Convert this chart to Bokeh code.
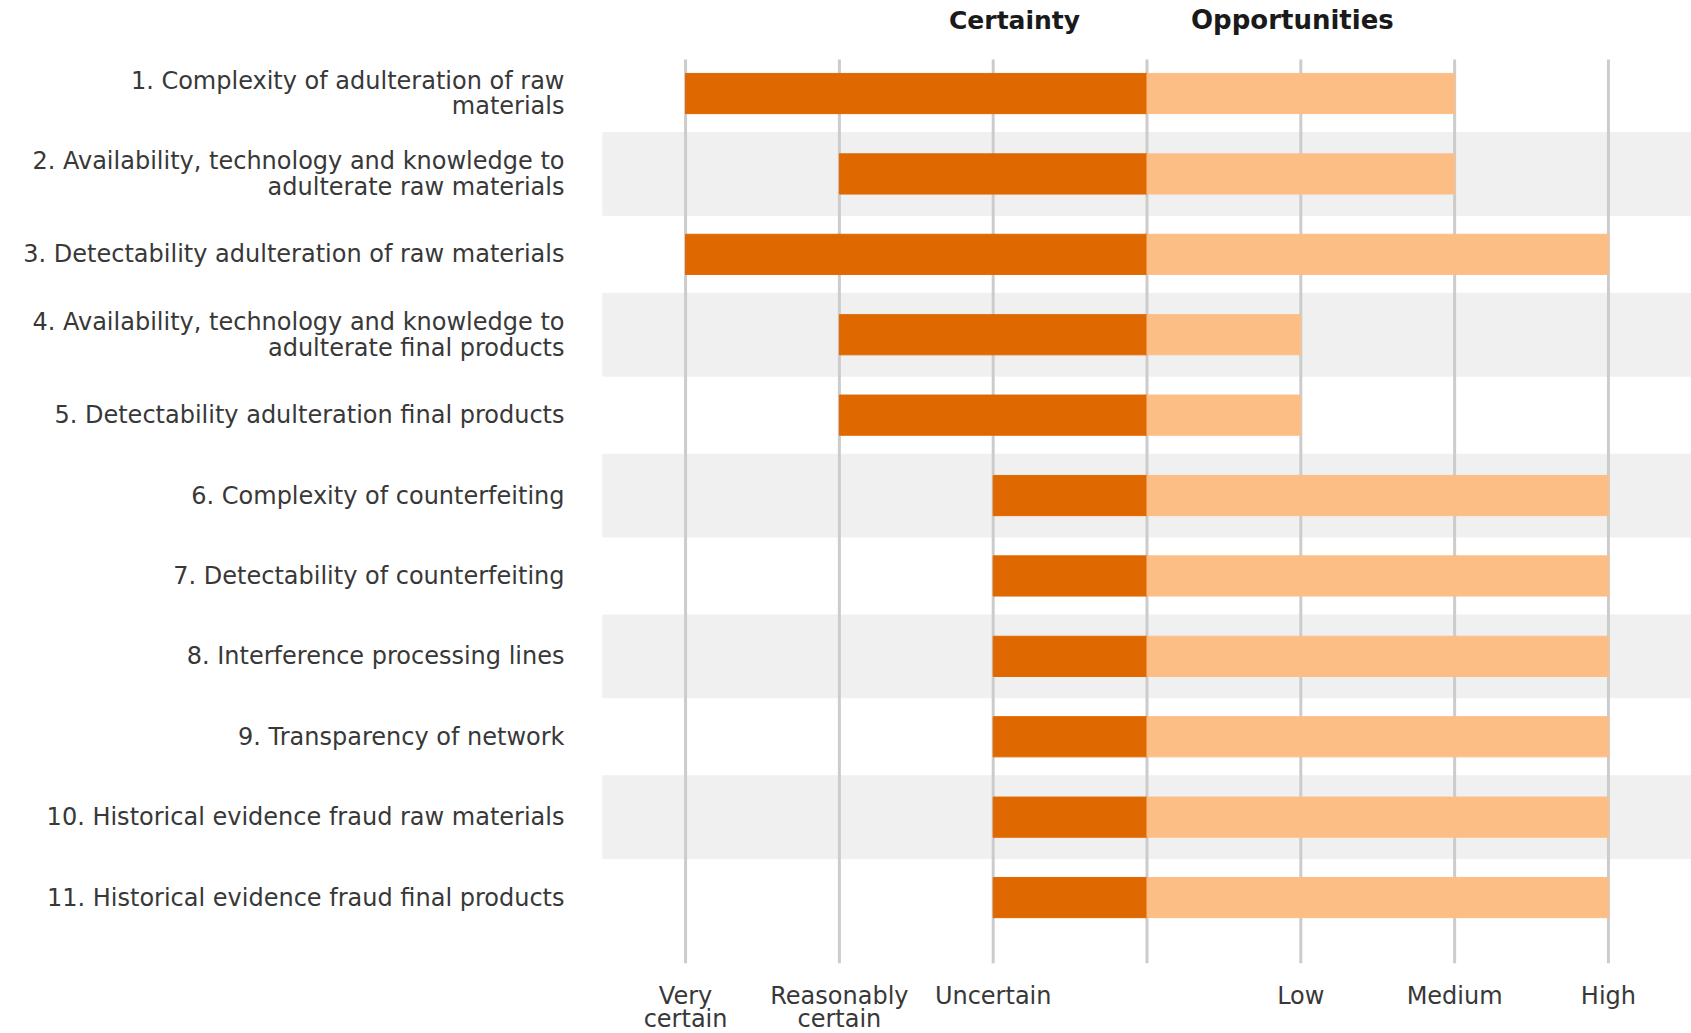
from bokeh.plotting import figure
from bokeh.models import Range1d, FixedTicker, LinearAxis
from bokeh.core.properties import value
from bokeh.embed import file_html
from bokeh.resources import INLINE

# ---- data ----
items = [
    "1. Complexity of adulteration of raw\nmaterials",
    "2. Availability, technology and knowledge to\nadulterate raw materials",
    "3. Detectability adulteration of raw materials",
    "4. Availability, technology and knowledge to\nadulterate final products",
    "5. Detectability adulteration final products",
    "6. Complexity of counterfeiting",
    "7. Detectability of counterfeiting",
    "8. Interference processing lines",
    "9. Transparency of network",
    "10. Historical evidence fraud raw materials",
    "11. Historical evidence fraud final products",
]
certainty = [-3, -2, -3, -2, -2, -1, -1, -1, -1, -1, -1]
opportunities = [2, 2, 3, 1, 1, 3, 3, 3, 3, 3, 3]
tick_values = [-3, -2, -1, 1, 2, 3]
tick_labels = ["Very\ncertain", "Reasonably\ncertain", "Uncertain", "Low", "Medium", "High"]
grid_values = [-3, -2, -1, 0, 1, 2, 3]
headers = ["Certainty", "Opportunities"]

rows = list(range(1, len(items) + 1))
band_rows = [r for r in rows if r % 2 == 0]

FONT = "DejaVu Sans"
X0, X1 = -3.54, 3.54
Y_TOP, Y_BOT = -0.157, 11.82

p = figure(width=1691, height=1033, output_backend="svg", toolbar_location=None,
           frame_width=1089, frame_height=963,
           x_range=Range1d(X0, X1), y_range=Range1d(Y_BOT, Y_TOP),
           x_axis_location=None, y_axis_location=None,
           min_border_left=602, min_border_right=0, min_border_top=0, min_border_bottom=0)
p.outline_line_color = None
p.grid.visible = False
p.background_fill_color = "white"
p.border_fill_color = "white"

# bands
p.hbar(y=band_rows, left=X0, right=X1, height=1.03, color="#f0f0f0")
# grid lines
p.segment(x0=grid_values, x1=grid_values, y0=0.577, y1=Y_BOT, line_color="#cccccc", line_width=3)
# bars
p.hbar(y=rows, left=certainty, right=0, height=0.5, color="#e06800")
p.hbar(y=rows, left=0, right=opportunities, height=0.5, color="#fdbe86")

# headers
p.text(x=[-0.435], y=[0.09], text=[headers[0]], text_align="right", text_baseline="middle",
       text_font=value(FONT), text_font_size="25px", text_font_style="bold", text_color="#1a1a1a")
p.text(x=[0.286], y=[0.09], text=[headers[1]], text_align="left", text_baseline="middle",
       text_font=value(FONT), text_font_size="26px", text_font_style="bold", text_color="#1a1a1a")

# left axis with item labels
ya = LinearAxis(ticker=FixedTicker(ticks=rows),
                major_label_overrides={r: lab for r, lab in zip(rows, items)})
ya.axis_line_color = None
ya.major_tick_line_color = None
ya.minor_tick_line_color = None
ya.major_label_standoff = 32
ya.major_label_text_font = FONT
ya.major_label_text_font_size = "24px"
ya.major_label_text_color = "#383838"
ya.major_label_text_line_height = 0.92
p.add_layout(ya, "left")

# bottom axis
xa = LinearAxis(ticker=FixedTicker(ticks=tick_values),
                major_label_overrides={v: lab for v, lab in zip(tick_values, tick_labels)})
xa.axis_line_color = None
xa.major_tick_line_color = None
xa.minor_tick_line_color = None
xa.major_label_standoff = 12
xa.major_label_text_font = FONT
xa.major_label_text_font_size = "24px"
xa.major_label_text_color = "#383838"
xa.major_label_text_line_height = 0.85
p.add_layout(xa, "below")

open("out.html", "w").write(file_html(p, INLINE))
